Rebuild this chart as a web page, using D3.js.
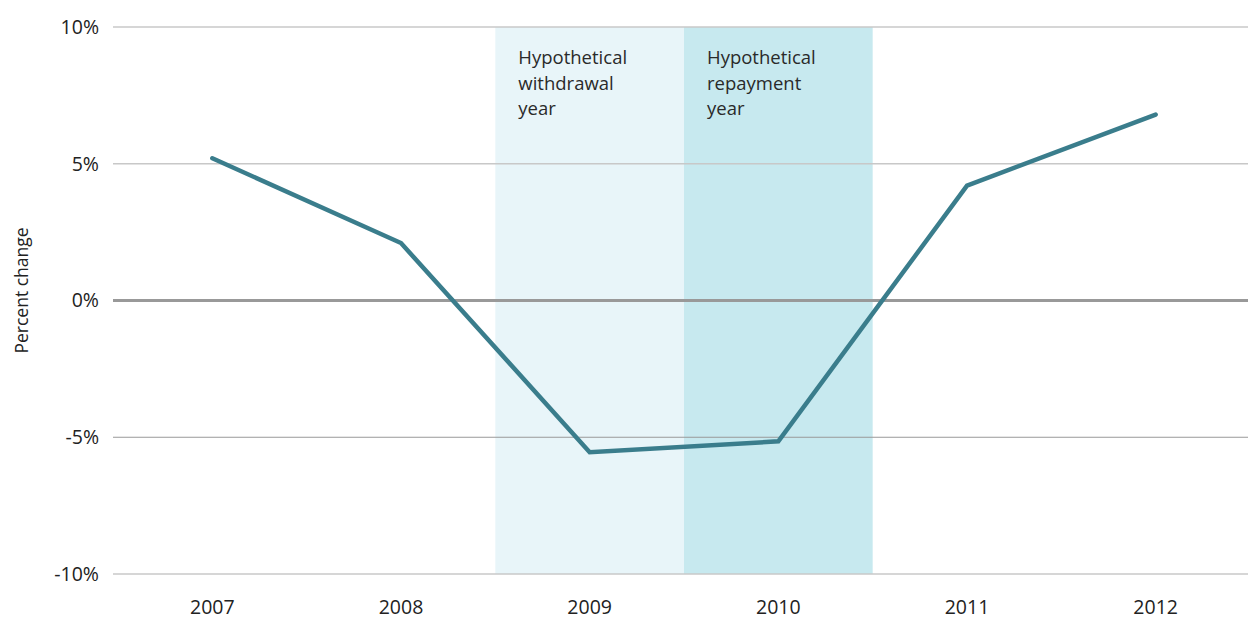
<!DOCTYPE html>
<html>
<head>
<meta charset="utf-8">
<script src="https://cdn.jsdelivr.net/npm/d3@7"></script>
<style>
  body { margin: 0; background: #fff; }
  text { font-family: "Open Sans", "Lato", sans-serif; fill: #222; }
</style>
</head>
<body>
<div id="chart"></div>
<script>
// Data
var years  = ["2007", "2008", "2009", "2010", "2011", "2012"];
var change = [5.2, 2.1, -5.55, -5.15, 4.2, 6.8];
var yTicks = [10, 5, 0, -5, -10];
var bands  = [
  {year: "2009", label: ["Hypothetical", "withdrawal", "year"], fill: "#e8f5f9"},
  {year: "2010", label: ["Hypothetical", "repayment", "year"], fill: "#c7e9ef"}
];

var W = 1248, H = 620;
var margin = {top: 27, right: 0, bottom: 46, left: 113};
var width  = W - margin.left - margin.right;
var height = H - margin.top - margin.bottom;

var svg = d3.select("#chart").append("svg")
    .attr("width", W)
    .attr("height", H)
  .append("g")
    .attr("transform", "translate(" + margin.left + "," + margin.top + ")");

// band columns start a little right of the gridlines
var x = d3.scaleBand()
    .domain(years)
    .range([5, width + 2]);

var y = d3.scaleLinear()
    .domain([-10, 10])
    .range([height, 0]);

// shaded years
svg.selectAll("rect.band").data(bands)
  .enter().append("rect")
    .attr("class", "band")
    .attr("x", function(d) { return x(d.year); })
    .attr("y", 0)
    .attr("width", x.bandwidth())
    .attr("height", height)
    .attr("fill", function(d) { return d.fill; });

svg.selectAll("text.bandLabel").data(bands)
  .enter().append("text")
    .attr("class", "bandLabel")
    .attr("y", 37)
    .style("font-size", "18.5px")
    .style("fill", "#2a2a2a")
    .each(function(d) {
      var t = d3.select(this);
      d.label.forEach(function(s, i) {
        t.append("tspan").attr("x", x(d.year) + 23).attr("dy", i ? 25.5 : 0).text(s);
      });
    });

// gridlines
svg.selectAll("line.grid").data(yTicks)
  .enter().append("line")
    .attr("class", "grid")
    .attr("x1", 0).attr("x2", width)
    .attr("y1", function(d) { return y(d); })
    .attr("y2", function(d) { return y(d); })
    .attr("stroke", function(d) { return (d === 0 || d === -5) ? "#999" : "#c8c8c8"; })
    .attr("stroke-width", function(d) { return d === 0 ? 3 : (d === -5 ? 1 : 1.5); });

// y axis labels
var yAxis = svg.append("g")
    .call(d3.axisLeft(y).tickValues(yTicks).tickSize(0).tickPadding(14)
      .tickFormat(function(d) { return d + "%"; }));
yAxis.select(".domain").remove();
yAxis.selectAll("text").style("font-size", "19.5px")
    .style("fill", "#222").style("font-family", "'Open Sans', sans-serif");

// x axis labels
var xAxis = svg.append("g")
    .attr("transform", "translate(0," + height + ")")
    .call(d3.axisBottom(x).tickSize(0).tickPadding(26));
xAxis.select(".domain").remove();
xAxis.selectAll("text").style("font-size", "19.5px")
    .style("fill", "#222").style("font-family", "'Open Sans', sans-serif");

// y title
svg.append("text")
    .attr("transform", "translate(" + (-85) + "," + (y(0) - 10) + ") rotate(-90)")
    .attr("text-anchor", "middle")
    .style("font-size", "17.5px")
    .style("fill", "#222")
    .text("Percent change");

// line
var line = d3.line()
    .x(function(d, i) { return x(years[i]) + x.bandwidth() / 2; })
    .y(function(d) { return y(d); });

svg.append("path")
    .datum(change)
    .attr("d", line)
    .attr("fill", "none")
    .attr("stroke", "#3a7d8c")
    .attr("stroke-width", 4.5)
    .attr("stroke-linecap", "round")
    .attr("stroke-linejoin", "miter");
</script>
</body>
</html>
